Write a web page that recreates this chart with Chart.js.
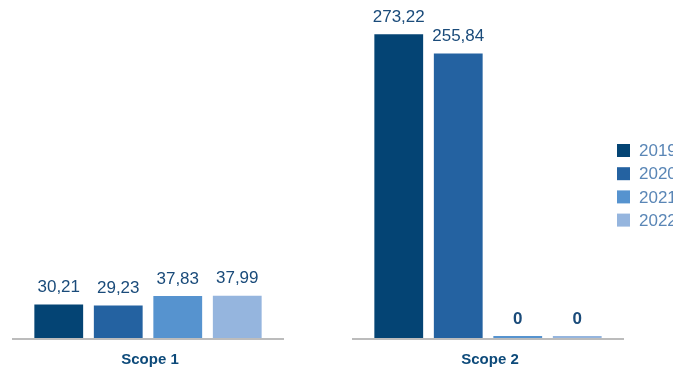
<!DOCTYPE html>
<html>
<head>
<meta charset="utf-8">
<script src="https://cdn.jsdelivr.net/npm/chart.js@4"></script>
<style>
  html, body { margin: 0; padding: 0; background: #fff; overflow: hidden; }
  body { width: 673px; height: 370px; position: relative; }
  #wrap { position: absolute; left: -22px; top: 0; width: 700px; height: 370px; }
</style>
</head>
<body>
<div id="wrap"><canvas id="chart" width="700" height="370"></canvas></div>
<script>
// data
const categories = ["Scope 1", "Scope 2"];
const years = ["2019", "2020", "2021", "2022"];
const values2019 = [30.21, 273.22];
const values2020 = [29.23, 255.84];
const values2021 = [37.83, 0];
const values2022 = [37.99, 0];
const colors = ["#044474", "#2462a1", "#5693cf", "#95b5de"];

const series = [values2019, values2020, values2021, values2022];
const FONT = "'Liberation Sans', Arial, sans-serif";

// number format with comma
function fmt(v) {
  return v === 0 ? "0" : v.toFixed(2).replace(".", ",");
}

// baseline + category label under each group
const groupAxis = {
  id: "groupAxis",
  beforeDatasetsDraw(chart) {
    const ctx = chart.ctx;
    const x = chart.scales.x;
    const bottom = chart.chartArea.bottom;
    const half = (x.width / categories.length) * 0.8 / 2;
    ctx.save();
    ctx.strokeStyle = "#bcbcbc";
    ctx.lineWidth = 2;
    ctx.fillStyle = "#0d4a7a";
    ctx.font = "bold 15px " + FONT;
    ctx.textAlign = "center";
    ctx.textBaseline = "middle";
    categories.forEach((c, i) => {
      const cx = x.getPixelForValue(i);
      ctx.beginPath();
      ctx.moveTo(cx - half, bottom + 1);
      ctx.lineTo(cx + half, bottom + 1);
      ctx.stroke();
      ctx.fillText(c, cx + 2, bottom + 22);
    });
    ctx.restore();
  }
};

// value labels above bars
const valueLabels = {
  id: "valueLabels",
  afterDatasetsDraw(chart) {
    const ctx = chart.ctx;
    ctx.save();
    ctx.textAlign = "center";
    ctx.textBaseline = "middle";
    ctx.fillStyle = "#1a4b7a";
    chart.data.datasets.forEach((ds, di) => {
      chart.getDatasetMeta(di).data.forEach((bar, i) => {
        const v = ds.data[i];
        ctx.font = (v === 0 ? "bold " : "") + "17px " + FONT;
        ctx.fillText(fmt(v), bar.x, Math.min(bar.y, chart.chartArea.bottom - 2) - 17);
      });
    });
    ctx.restore();
  }
};

// legend at the right edge (cut off like the original)
const sideLegend = {
  id: "sideLegend",
  afterDraw(chart) {
    const ctx = chart.ctx;
    ctx.save();
    ctx.font = "17px " + FONT;
    ctx.textBaseline = "middle";
    chart.data.datasets.forEach((ds, i) => {
      const y = 150.5 + i * 23.2;
      ctx.fillStyle = ds.backgroundColor;
      ctx.fillRect(639, y - 6.5, 13, 13);
      ctx.fillStyle = "#5a86b6";
      ctx.fillText(ds.label, 661, y + 1);
    });
    ctx.restore();
  }
};

new Chart(document.getElementById("chart"), {
  type: "bar",
  data: {
    labels: categories,
    datasets: years.map((y, i) => ({
      label: y,
      data: series[i],
      backgroundColor: colors[i],
      minBarLength: 2
    }))
  },
  options: {
    responsive: false,
    animation: false,
    devicePixelRatio: 1,
    categoryPercentage: 0.7,
    barPercentage: 0.82,
    layout: { padding: { left: 0, right: 20, top: 0, bottom: 32 } },
    plugins: { legend: { display: false }, tooltip: { enabled: false } },
    scales: {
      x: { display: false },
      y: { display: false, min: 0, max: 304 }
    }
  },
  plugins: [groupAxis, valueLabels, sideLegend]
});
</script>
</body>
</html>
